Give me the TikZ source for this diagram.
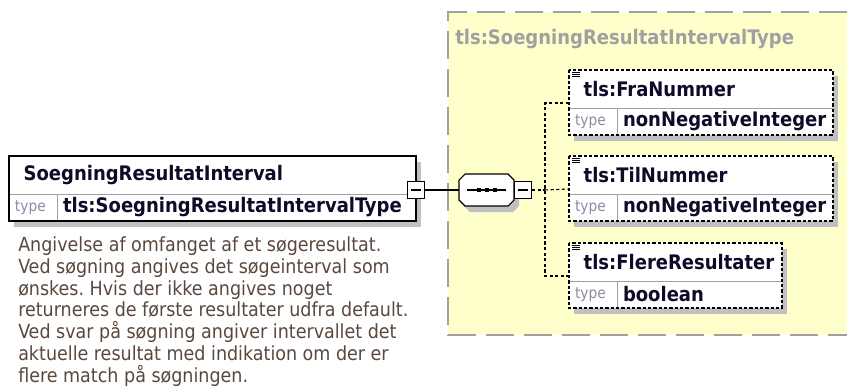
\documentclass[tikz,border=0pt]{standalone}
\usepackage{fontspec}
\setmainfont{DejaVu Sans Condensed}
\usepackage{xcolor}
\usepackage{tikz}
\usetikzlibrary{positioning, shadows}
\definecolor{panelyellow}{RGB}{255, 255, 204}
\definecolor{panelgray}{RGB}{160, 160, 160}
\definecolor{shadowgray}{RGB}{192, 192, 192}
\definecolor{typegray}{RGB}{140, 140, 165}
\definecolor{namenavy}{RGB}{12, 12, 40}
\definecolor{notebrown}{RGB}{90, 72, 62}

\tikzset{
  boxshadow/.style={general shadow={fill=shadowgray, shadow xshift=3.75pt, shadow yshift=-4.5pt}},
  cell/.style={fill=white, outer sep=0pt, anchor=north west, align=left, boxshadow},
  elemhead/.style={cell, minimum height=28.5pt, inner xsep=11pt, inner ysep=1pt,
    text=namenavy, font=\fontsize{15}{17}\selectfont\bfseries},
  typelbl/.style={cell, minimum height=20.25pt, text width=27pt, inner xsep=4.5pt, inner ysep=1pt,
    text=typegray, font=\fontsize{11.5}{13}\selectfont},
  typename/.style={cell, minimum height=20.25pt, inner xsep=4.5pt, inner ysep=1pt,
    text=namenavy, font=\fontsize{15}{17}\selectfont\bfseries},
  divider/.style={gray!75, line width=0.6pt},
  dashbox/.style={line width=0.9pt, dash pattern=on 2.4pt off 1.6pt},
  dashconn/.style={line width=0.8pt, dash pattern=on 2.4pt off 1.8pt},
  conn/.style={line width=0.8pt},
  minusbox/.style={draw, fill=white, line width=0.8pt, minimum size=12.75pt, inner sep=0pt,
    path picture={\draw[line width=0.8pt] ([xshift=-4pt]path picture bounding box.center)
      -- ([xshift=4pt]path picture bounding box.center);}},
  seqframe/.style={outer sep=0pt, inner sep=0pt, minimum width=41.25pt, minimum height=24pt},
  paneledge/.style={panelgray, line width=1.2pt, dash pattern=on 21pt off 7.5pt},
}

\begin{document}
\begin{tikzpicture}[x=0.75pt, y=-0.75pt]
  \useasboundingbox (0,0) rectangle (847,387);
  % Type panel
  \fill[panelyellow] (448,12) rectangle (847,335);
  \draw[paneledge] (847,12) -- (448,12) -- (448,335) -- (847,335);
  \node[anchor=base west, inner sep=0pt, text=panelgray, font=\fontsize{15}{17}\selectfont\bfseries]
    (paneltitle) at (455,44) {tls:SoegningResultatIntervalType};

  % Element box
  \node[elemhead, text width=283.25pt] (mainhd) at (9,156) {SoegningResultatInterval};
  \node[typelbl] (maintl) at (mainhd.south west) {type};
  \node[typename, text width=260.25pt] (maintn) at (maintl.north east) {tls:SoegningResultatIntervalType};
  \draw[divider] (mainhd.south west) -- (maintn.north east);
  \draw[divider] (maintl.north east) -- (maintl.south east);
  \draw[line width=1.2pt] (mainhd.north west) rectangle (maintn.south east);
  \node[anchor=base west, inner sep=0pt, align=left, text=notebrown,
        font=\fontsize{14.6}{16.3}\selectfont\frenchspacing] (mainnote) at (18,382)
    {Angivelse af omfanget af et søgeresultat.\\
     Ved søgning angives det søgeinterval som\\
     ønskes. Hvis der ikke angives noget\\
     returneres de første resultater udfra default.\\
     Ved svar på søgning angiver intervallet det\\
     aktuelle resultat med indikation om der er\\
     flere match på søgningen.};

  % Sequence
  \node[minusbox] (mainx) at ([yshift=3pt]maintn.north east) {};
  \node[seqframe] (seq) at (486.5,190) {};
  \fill[shadowgray] ([shift={(11,6)}]seq.north west) -- ([shift={(-1,6)}]seq.north east)
    -- ([shift={(5,12)}]seq.north east) -- ([shift={(5,0)}]seq.south east)
    -- ([shift={(-1,6)}]seq.south east) -- ([shift={(11,6)}]seq.south west)
    -- ([shift={(5,0)}]seq.south west) -- ([shift={(5,12)}]seq.north west) -- cycle;
  \filldraw[fill=white, line width=0.8pt] ([shift={(6,0)}]seq.north west) -- ([shift={(-6,0)}]seq.north east)
    -- ([shift={(0,6)}]seq.north east) -- ([shift={(0,-6)}]seq.south east)
    -- ([shift={(-6,0)}]seq.south east) -- ([shift={(6,0)}]seq.south west)
    -- ([shift={(0,-6)}]seq.south west) -- ([shift={(0,6)}]seq.north west) -- cycle;
  \draw[conn] ([xshift=6pt]seq.west) -- ([xshift=-6pt]seq.east);
  \foreach \d in {-8,0,8}
    \fill ([shift={(\d-2,-2)}]seq.center) rectangle ++(4,4);
  \node[minusbox, right=0pt of seq] (seqx) {};
  \draw[conn] (mainx) -- (seq);
  \coordinate (spine) at (545,190);
  \draw[dashconn] (seqx) -- (spine);

  % Child elements
  \foreach \nm/\ty/\y/\w/\tw [count=\i] in {FraNummer/nonNegativeInteger/70/176/153,
      TilNummer/nonNegativeInteger/156/176/153, FlereResultater/boolean/243/137.75/114.75} {
    \node[elemhead, text width=\w pt] (child\i) at (569,\y) {tls:\nm};
    \node[typelbl] (childtl\i) at (child\i.south west) {type};
    \node[typename, text width=\tw pt] (childtn\i) at (childtl\i.north east) {\ty};
    \draw[divider] (child\i.south west) -- (childtn\i.north east);
    \draw[divider] (childtl\i.north east) -- (childtl\i.south east);
    \draw[dashbox] (child\i.north west) rectangle (childtn\i.south east);
    \foreach \k in {0,1,2}
      \draw[line width=0.6pt] ([shift={(3,2+2*\k)}]child\i.north west) -- ++(8,0);
    \coordinate (in\i) at ([yshift=3.75pt]child\i.south west);
  }
  \draw[dashconn] (in1) -| (spine) |- (in3);
  \draw[dashconn] (spine) -- (in2);
\end{tikzpicture}
\end{document}
